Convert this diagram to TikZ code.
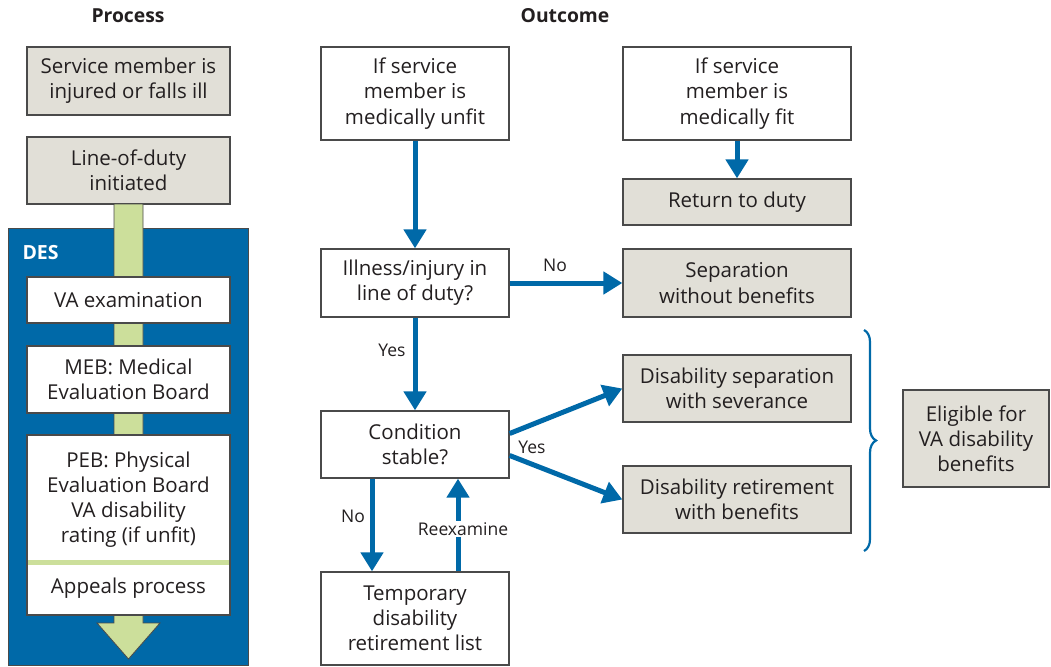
\documentclass[tikz,border=0pt]{standalone}
\usepackage{fontspec}
\setmainfont{Open Sans}
\usetikzlibrary{arrows.meta,decorations.pathreplacing}

\definecolor{desblue}{HTML}{0069A8}
\definecolor{boxgray}{HTML}{E1DFD7}
\definecolor{edgegray}{HTML}{4A4A4A}
\definecolor{barGreen}{HTML}{CCDF9B}
\definecolor{inkgray}{HTML}{231F20}

\tikzset{
  box/.style={draw=edgegray, line width=1.3pt, align=center, inner sep=0pt, text=inkgray,
    font=\fontsize{20.5}{25.2}\selectfont},
  graybox/.style={box, fill=boxgray},
  whitebox/.style={box, fill=white},
  flow/.style={desblue, line width=5pt, -{Triangle[width=22pt,length=19pt]}},
  lbl/.style={font=\fontsize{17.5}{20}\selectfont, text=inkgray},
  heading/.style={font=\bfseries\fontsize{19.3}{23}\selectfont, text=inkgray}
}

\begin{document}
\begin{tikzpicture}[x=1pt,y=-1pt]
                \useasboundingbox (0,0) rectangle (1051,666);

                % process column
                \node[heading] (proc) at (128,16) {Process};
                \node[heading] (outc) at (565,16) {Outcome};

                \node[graybox, minimum width=203pt, minimum height=68pt] (injured) at (128.5,81) {Service member is\\injured or falls ill};
                \node[graybox, minimum width=203pt, minimum height=67pt] (lod) at (128.5,170.5) {Line-of-duty\\initiated};

                \filldraw [fill=desblue, draw=edgegray, line width=1pt] (8,228) rectangle (248,665);
                \filldraw [fill=barGreen, draw=edgegray, line width=0.8pt] (114,204) -- (114,623) -- (97,623) -- (128.5,659) -- (160,623) -- (143,623) -- (143,204) -- cycle;
                \node[font=\bfseries\fontsize{19.5}{23}\selectfont, text=white, anchor=west] (des) at (19,253) {DES};

                \node[whitebox, minimum width=203pt, minimum height=46pt] (vaexam) at (128.5,300) {VA examination};
                \node[whitebox, minimum width=203pt, minimum height=67pt] (meb) at (128.5,379.5) {MEB: Medical\\Evaluation Board};
                \node[whitebox, minimum width=203pt, minimum height=180pt] (peb) at (128.5,525) {};
                \node[box, draw=none, anchor=north] (pebtext) at (128.5,451) {PEB: Physical\\Evaluation Board\\VA disability\\rating (if unfit)};
                \draw [barGreen, line width=5pt] (28,562) -- (229,562);
                \node[box, draw=none] (appeals) at (128.5,588) {Appeals process};

                % outcome column
                \node[whitebox, minimum width=188pt, minimum height=93pt] (unfit) at (415,93.5) {If service\\member is\\medically unfit};
                \node[whitebox, minimum width=228pt, minimum height=93pt] (fit) at (737,93.5) {If service\\member is\\medically fit};
                \node[graybox, minimum width=228pt, minimum height=46pt] (ret) at (737,202) {Return to duty};
                \node[whitebox, minimum width=188pt, minimum height=68pt] (illness) at (415,283) {Illness/injury in\\line of duty?};
                \node[graybox, minimum width=228pt, minimum height=68pt] (sep) at (737,283) {Separation\\without benefits};
                \node[graybox, minimum width=228pt, minimum height=67pt] (dsep) at (737,388.5) {Disability separation\\with severance};
                \node[whitebox, minimum width=188pt, minimum height=67pt] (cond) at (415,444.5) {Condition\\stable?};
                \node[graybox, minimum width=228pt, minimum height=67pt] (dret) at (737,499.5) {Disability retirement\\with benefits};
                \node[whitebox, minimum width=188pt, minimum height=93pt] (tdrl) at (415,618.5) {Temporary\\disability\\retirement list};
                \node[graybox, minimum width=146pt, minimum height=97pt] (elig) at (976,438.5) {Eligible for\\VA disability\\benefits};

                \draw [flow] (unfit) -- (illness);
                \draw [flow] (fit) -- (ret);
                \draw [flow] (illness) -- (sep);
                \draw [flow] (illness) -- (cond);
                \draw [flow] ([yshift=11pt]cond.east) -- (dsep.west);
                \draw [flow] ([yshift=-11pt]cond.east) -- (dret.west);
                \draw [flow] ([xshift=-43pt]cond.south) -- ([xshift=-43pt]tdrl.north);
                \draw [flow] ([xshift=43pt]tdrl.north) -- ([xshift=43pt]cond.south);

                \node[lbl] (no1) at (555,265) {No};
                \node[lbl] (yes1) at (392,350) {Yes};
                \node[lbl] (yes2) at (532,447) {Yes};
                \node[lbl] (no2) at (353,516) {No};
                \node[lbl, fill=white, inner sep=1pt] (reex) at (463,529) {Reexamine};

                \draw [desblue, line width=2.2pt, decorate, decoration={brace, amplitude=12pt}] (864,330) -- (864,551);
            \end{tikzpicture}
\end{document}
